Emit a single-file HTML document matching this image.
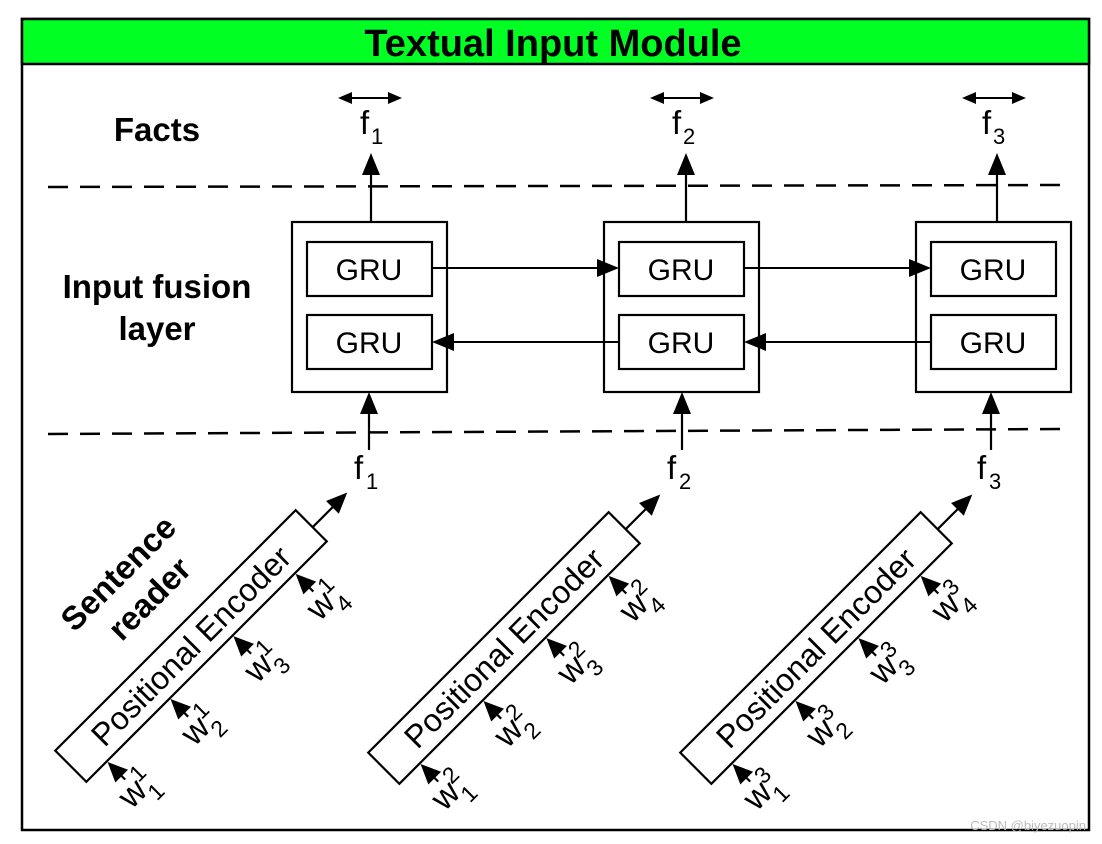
<!DOCTYPE html>
<html><head><style>
html,body{margin:0;padding:0;background:#fff;}
svg{display:block;font-family:"Liberation Sans",Arial,sans-serif;}
</style></head><body>
<svg width="1102" height="844" viewBox="0 0 1102 844" xmlns="http://www.w3.org/2000/svg">
<rect x="22" y="19" width="1067" height="811" fill="#fff" stroke="#000" stroke-width="2.5"/>
<rect x="22" y="19" width="1067" height="45" fill="#00ff22" stroke="#000" stroke-width="2.5"/>
<text x="553" y="56" text-anchor="middle" font-size="38" font-weight="bold">Textual Input Module</text>

<text x="157" y="141" text-anchor="middle" font-size="33" font-weight="bold">Facts</text>
<text x="157" y="298" text-anchor="middle" font-size="33" font-weight="bold">Input fusion</text>
<text x="157" y="340" text-anchor="middle" font-size="33" font-weight="bold">layer</text>

<line x1="48" y1="187" x2="1062" y2="185" stroke="#000" stroke-width="2.5" stroke-dasharray="20,12"/>
<line x1="48" y1="434" x2="1062" y2="429" stroke="#000" stroke-width="2.5" stroke-dasharray="20,12"/>

<g>
  <rect x="292" y="222" width="155" height="170" fill="none" stroke="#000" stroke-width="2.2"/>
  <rect x="307" y="242" width="125" height="54" fill="#fff" stroke="#000" stroke-width="2.2"/>
  <rect x="307" y="315" width="125" height="54" fill="#fff" stroke="#000" stroke-width="2.2"/>
  <text x="369" y="280" text-anchor="middle" font-size="30">GRU</text>
  <text x="369" y="353" text-anchor="middle" font-size="30">GRU</text>
  <line x1="371" y1="222" x2="371" y2="170" stroke="#000" stroke-width="2.2"/>
  <polygon points="371,153 362,175 380,175" fill="#000"/>
  <line x1="369" y1="450" x2="369" y2="410" stroke="#000" stroke-width="2.2"/>
  <polygon points="369,392 360,414 378,414" fill="#000"/>
  <line x1="343" y1="98" x2="397" y2="98" stroke="#000" stroke-width="2"/>
  <polygon points="338,98 352,92 352,104" fill="#000"/>
  <polygon points="402,98 388,92 388,104" fill="#000"/>
  <text x="360" y="134" font-size="33">f</text><text x="371" y="144" font-size="22">1</text>
  <text x="354" y="479" font-size="33">f</text><text x="366" y="489" font-size="22">1</text>
</g>
<g transform="translate(312,0)">
  <rect x="292" y="222" width="155" height="170" fill="none" stroke="#000" stroke-width="2.2"/>
  <rect x="307" y="242" width="125" height="54" fill="#fff" stroke="#000" stroke-width="2.2"/>
  <rect x="307" y="315" width="125" height="54" fill="#fff" stroke="#000" stroke-width="2.2"/>
  <text x="369" y="280" text-anchor="middle" font-size="30">GRU</text>
  <text x="369" y="353" text-anchor="middle" font-size="30">GRU</text>
  <line x1="374" y1="222" x2="374" y2="170" stroke="#000" stroke-width="2.2"/>
  <polygon points="374,153 365,175 383,175" fill="#000"/>
  <line x1="370" y1="450" x2="370" y2="410" stroke="#000" stroke-width="2.2"/>
  <polygon points="370,392 361,414 379,414" fill="#000"/>
  <line x1="343" y1="98" x2="397" y2="98" stroke="#000" stroke-width="2"/>
  <polygon points="338,98 352,92 352,104" fill="#000"/>
  <polygon points="402,98 388,92 388,104" fill="#000"/>
  <text x="360" y="134" font-size="33">f</text><text x="371" y="144" font-size="22">2</text>
  <text x="355" y="479" font-size="33">f</text><text x="367" y="489" font-size="22">2</text>
</g>
<g transform="translate(624,0)">
  <rect x="292" y="222" width="155" height="170" fill="none" stroke="#000" stroke-width="2.2"/>
  <rect x="307" y="242" width="125" height="54" fill="#fff" stroke="#000" stroke-width="2.2"/>
  <rect x="307" y="315" width="125" height="54" fill="#fff" stroke="#000" stroke-width="2.2"/>
  <text x="369" y="280" text-anchor="middle" font-size="30">GRU</text>
  <text x="369" y="353" text-anchor="middle" font-size="30">GRU</text>
  <line x1="373" y1="222" x2="373" y2="170" stroke="#000" stroke-width="2.2"/>
  <polygon points="373,153 364,175 382,175" fill="#000"/>
  <line x1="367" y1="450" x2="367" y2="410" stroke="#000" stroke-width="2.2"/>
  <polygon points="367,392 358,414 376,414" fill="#000"/>
  <line x1="343" y1="98" x2="397" y2="98" stroke="#000" stroke-width="2"/>
  <polygon points="338,98 352,92 352,104" fill="#000"/>
  <polygon points="402,98 388,92 388,104" fill="#000"/>
  <text x="358" y="134" font-size="33">f</text><text x="369" y="144" font-size="22">3</text>
  <text x="353" y="479" font-size="33">f</text><text x="365" y="489" font-size="22">3</text>
</g>

<line x1="432" y1="268" x2="598" y2="268" stroke="#000" stroke-width="2"/>
<polygon points="619,268 597,259 597,277" fill="#000"/>
<line x1="744" y1="268" x2="910" y2="268" stroke="#000" stroke-width="2"/>
<polygon points="931,268 909,259 909,277" fill="#000"/>
<line x1="619" y1="342" x2="452" y2="342" stroke="#000" stroke-width="2"/>
<polygon points="432,342 454,333 454,351" fill="#000"/>
<line x1="931" y1="342" x2="764" y2="342" stroke="#000" stroke-width="2"/>
<polygon points="744,342 766,333 766,351" fill="#000"/>

<g transform="translate(197,652) rotate(-45)">
  <text x="0" y="-100" text-anchor="middle" font-size="33" font-weight="bold">Sentence</text>
  <text x="4" y="-60" text-anchor="middle" font-size="33" font-weight="bold">reader</text>
</g>

<g transform="translate(191,646) rotate(-45)">
  <rect x="-170" y="-22" width="340" height="44" fill="#fff" stroke="#000" stroke-width="2.2"/>
  <text x="0" y="11" text-anchor="middle" font-size="32">Positional Encoder</text>
  <line x1="170" y1="2" x2="200" y2="2" stroke="#000" stroke-width="2.2"/>
  <polygon points="219,2 198,-7 198,11" fill="#000"/>
  <g stroke="#000" stroke-width="2.2">
    <line x1="-141" y1="40" x2="-141" y2="48"/><line x1="-52" y1="40" x2="-52" y2="48"/>
    <line x1="37" y1="40" x2="37" y2="48"/><line x1="125" y1="40" x2="125" y2="48"/>
  </g>
  <polygon points="-141,23 -150,43 -132,43" fill="#000"/>
  <polygon points="-52,23 -61,43 -43,43" fill="#000"/>
  <polygon points="37,23 28,43 46,43" fill="#000"/>
  <polygon points="125,23 116,43 134,43" fill="#000"/>
  <g font-size="34">
    <text x="-158" y="74">w</text><text x="-134" y="60" font-size="23">1</text><text x="-134" y="86" font-size="23">1</text>
    <text x="-69" y="74">w</text><text x="-45" y="60" font-size="23">1</text><text x="-45" y="86" font-size="23">2</text>
    <text x="20" y="74">w</text><text x="44" y="60" font-size="23">1</text><text x="44" y="86" font-size="23">3</text>
    <text x="108" y="74">w</text><text x="132" y="60" font-size="23">1</text><text x="132" y="86" font-size="23">4</text>
  </g>
</g>
<g transform="translate(504,648) rotate(-45)">
  <rect x="-170" y="-22" width="340" height="44" fill="#fff" stroke="#000" stroke-width="2.2"/>
  <text x="0" y="11" text-anchor="middle" font-size="32">Positional Encoder</text>
  <line x1="170" y1="2" x2="200" y2="2" stroke="#000" stroke-width="2.2"/>
  <polygon points="219,2 198,-7 198,11" fill="#000"/>
  <g stroke="#000" stroke-width="2.2">
    <line x1="-141" y1="40" x2="-141" y2="48"/><line x1="-52" y1="40" x2="-52" y2="48"/>
    <line x1="37" y1="40" x2="37" y2="48"/><line x1="125" y1="40" x2="125" y2="48"/>
  </g>
  <polygon points="-141,23 -150,43 -132,43" fill="#000"/>
  <polygon points="-52,23 -61,43 -43,43" fill="#000"/>
  <polygon points="37,23 28,43 46,43" fill="#000"/>
  <polygon points="125,23 116,43 134,43" fill="#000"/>
  <g font-size="34">
    <text x="-158" y="74">w</text><text x="-134" y="60" font-size="23">2</text><text x="-134" y="86" font-size="23">1</text>
    <text x="-69" y="74">w</text><text x="-45" y="60" font-size="23">2</text><text x="-45" y="86" font-size="23">2</text>
    <text x="20" y="74">w</text><text x="44" y="60" font-size="23">2</text><text x="44" y="86" font-size="23">3</text>
    <text x="108" y="74">w</text><text x="132" y="60" font-size="23">2</text><text x="132" y="86" font-size="23">4</text>
  </g>
</g>
<g transform="translate(816,648) rotate(-45)">
  <rect x="-170" y="-22" width="340" height="44" fill="#fff" stroke="#000" stroke-width="2.2"/>
  <text x="0" y="11" text-anchor="middle" font-size="32">Positional Encoder</text>
  <line x1="170" y1="2" x2="200" y2="2" stroke="#000" stroke-width="2.2"/>
  <polygon points="219,2 198,-7 198,11" fill="#000"/>
  <g stroke="#000" stroke-width="2.2">
    <line x1="-141" y1="40" x2="-141" y2="48"/><line x1="-52" y1="40" x2="-52" y2="48"/>
    <line x1="37" y1="40" x2="37" y2="48"/><line x1="125" y1="40" x2="125" y2="48"/>
  </g>
  <polygon points="-141,23 -150,43 -132,43" fill="#000"/>
  <polygon points="-52,23 -61,43 -43,43" fill="#000"/>
  <polygon points="37,23 28,43 46,43" fill="#000"/>
  <polygon points="125,23 116,43 134,43" fill="#000"/>
  <g font-size="34">
    <text x="-158" y="74">w</text><text x="-134" y="60" font-size="23">3</text><text x="-134" y="86" font-size="23">1</text>
    <text x="-69" y="74">w</text><text x="-45" y="60" font-size="23">3</text><text x="-45" y="86" font-size="23">2</text>
    <text x="20" y="74">w</text><text x="44" y="60" font-size="23">3</text><text x="44" y="86" font-size="23">3</text>
    <text x="108" y="74">w</text><text x="132" y="60" font-size="23">3</text><text x="132" y="86" font-size="23">4</text>
  </g>
</g>
<text x="1086" y="830" text-anchor="end" font-size="13" fill="#bbb">CSDN @biyezuopin</text>
</svg>
</body></html>
